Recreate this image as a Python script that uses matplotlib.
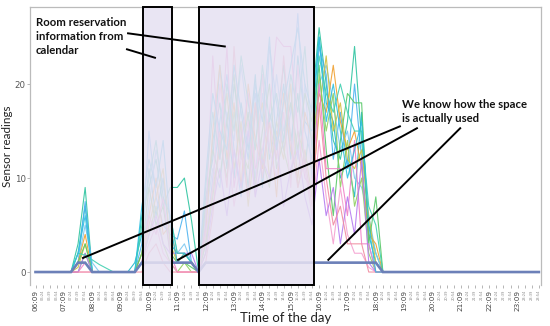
import matplotlib
matplotlib.use("Agg")
import matplotlib.pyplot as plt
from matplotlib.patches import Rectangle
import matplotlib.transforms as mtransforms

# ---------------- data ----------------
time_labels = [
    "06:09", "06:24", "06:39", "06:54", "07:09", "07:24", "07:39", "07:54",
    "08:09", "08:24", "08:39", "08:54", "09:09", "09:24", "09:39", "09:54",
    "10:09", "10:24", "10:39", "10:54", "11:09", "11:24", "11:39", "11:54",
    "12:09", "12:24", "12:39", "12:54", "13:09", "13:24", "13:39", "13:54",
    "14:09", "14:24", "14:39", "14:54", "15:09", "15:24", "15:39", "15:54",
    "16:09", "16:24", "16:39", "16:54", "17:09", "17:24", "17:39", "17:54",
    "18:09", "18:24", "18:39", "18:54", "19:09", "19:24", "19:39", "19:54",
    "20:09", "20:24", "20:39", "20:54", "21:09", "21:24", "21:39", "21:54",
    "22:09", "22:24", "22:39", "22:54", "23:09", "23:24", "23:39", "23:54",
]

# sensor series: values for 07:24 .. 18:24 (readings are 0 outside this window)
active_start = 5
s_teal = [0, 3, 9, 0, 0, 0, 0, 0, 0,
          0, 6, 9, 12, 7, 9,
          9, 10, 5.5, 0,
          5, 14, 18, 11, 20, 15, 9, 17, 21, 12, 16, 22, 14, 19, 11,
          18, 26, 20, 14, 12, 16, 24, 14, 5, 2, 0]
s_turq = [0, 2, 7, 0, 0, 0, 0, 0, 0,
          1, 4, 11, 6, 10, 3,
          2, 2, 1, 0,
          8, 12, 22, 16, 10, 18, 13, 21, 9, 17, 14, 20, 12, 23, 16,
          15, 25, 18, 16, 10, 12, 8, 17, 4, 1, 0]
s_lblue = [0, 1, 7.5, 0, 0, 0, 0, 0, 0,
           0, 3, 15, 8, 5, 4,
           3.5, 6.5, 1, 0,
           3, 10, 16, 21, 13, 8, 15, 19, 11, 24, 18, 13, 17, 27.5, 15,
           12, 24, 21, 12, 17, 11, 20, 12, 3, 0, 0]
s_sky = [0, 1, 5, 1, 0, 0, 0, 0, 0,
         0, 2, 7, 13, 9, 6,
         2, 3, 1, 0,
         6, 11, 9, 17, 14, 22, 16, 10, 19, 13, 21, 15, 18, 12, 20,
         10, 20, 22, 18, 13, 15, 10, 9, 6, 2, 0]
s_orange = [0, 1, 4, 0, 0, 0, 0, 0, 0,
            0, 2, 6, 10, 4, 5,
            1, 2, 1, 0,
            4, 15, 22, 12, 18, 9, 20, 14, 11, 16, 8, 19, 13, 10, 17,
            14, 19, 17, 22, 16, 13, 15, 11, 4, 3, 0]
s_gold = [0, 0.5, 3, 0, 0, 0, 0, 0, 0,
          0, 1, 5, 8, 11, 3,
          1, 1, 1, 0,
          2, 9, 13, 19, 11, 16, 7, 14, 18, 10, 15, 12, 20, 9, 13,
          8, 17, 23, 15, 18, 12, 11, 13, 6, 1, 0]
s_green = [0, 1, 3, 0, 0, 0, 0, 0, 0,
           0, 2, 9, 5, 7, 2,
           1, 1, 0.5, 0,
           7, 13, 10, 16, 21, 12, 17, 9, 15, 20, 11, 14, 18, 13, 19,
           16, 22, 13, 6, 14, 19, 18, 18, 3, 8, 0]
s_lime = [0, 0, 2, 0, 0, 0, 0, 0, 0,
          0, 1, 4, 7, 3, 1,
          0, 1, 0, 0,
          3, 8, 14, 10, 17, 13, 11, 18, 12, 9, 16, 13, 10, 15, 12,
          11, 21, 15, 19, 9, 14, 7, 10, 2, 0, 0]
s_pink = [0, 0, 1, 0, 0, 0, 0, 0, 0,
          0, 1, 6, 4, 8, 2,
          0, 0, 0, 0,
          5, 23, 12, 24, 9, 14, 19, 11, 13, 17, 25, 24, 24, 15, 10,
          9, 20, 11, 11, 11, 6, 14, 3, 3, 0, 0]
s_lpink = [0, 0, 0, 0, 0, 0, 0, 0, 0,
           0, 1, 3, 5, 2, 1,
           0, 0, 0, 0,
           4, 9, 20, 14, 7, 12, 16, 8, 21, 13, 10, 17, 9, 22, 11,
           6, 14, 8, 3, 9, 4, 2, 2, 0.5, 0, 0]
s_violet = [0, 0, 2, 0, 0, 0, 0, 0, 0,
            0, 1, 4, 6, 3, 2,
            2, 2, 2, 0,
            2, 7, 11, 6, 13, 9, 15, 8, 12, 10, 14, 7, 11, 13, 8,
            5, 12, 6, 9, 3, 8, 4, 12, 1, 0, 0]
s_salmon = [0, 0, 0, 0, 0, 0, 0, 0, 0,
            0, 0, 2, 3, 1, 0,
            0, 0, 0, 0,
            1, 6, 15, 9, 24, 13, 8, 18, 10, 16, 12, 23, 14, 9, 12,
            7, 18, 10, 5, 7, 3, 3, 3, 0, 0, 0]
s_aqua = [0, 2, 1.8, 1.3, 0.8, 0.4, 0, 0, 0,
          0, 5, 10, 14, 8, 6,
          2, 2, 1, 0,
          9, 17, 12, 20, 15, 23, 18, 13, 22, 16, 19, 14, 21, 17, 24,
          13, 23, 19, 17, 20, 17, 15, 15, 7, 5, 0]
s_cyan = [0, 2, 6, 0, 0, 0, 0, 0, 0,
          0, 7, 12, 9, 14, 5,
          1, 2, 1, 0,
          10, 19, 15, 13, 22, 17, 12, 20, 16, 25, 13, 18, 22, 26, 20,
          17, 25, 16, 20, 15, 10, 13, 16, 5, 0, 0]

# actual occupancy (thick line)
occupancy = [0, 0, 0, 0, 0, 0, 1, 1, 0, 0, 0, 0, 0, 0, 0, 1,
             1, 1, 1, 1, 1, 1, 1, 0, 1, 1, 1, 1, 1, 1, 1, 1,
             1, 1, 1, 1, 1, 1, 1, 1, 1, 1, 1, 1, 1, 1, 1, 1,
             1, 0, 0, 0, 0, 0, 0, 0, 0, 0, 0, 0, 0, 0, 0, 0,
             0, 0, 0, 0, 0, 0, 0, 0]

# calendar reservations (start, end) in time-slot units
reservations = [(15.16, 19.25), (23.06, 39.28)]

series = [s_teal, s_turq, s_lblue, s_sky, s_orange, s_gold, s_green, s_lime,
          s_pink, s_lpink, s_violet, s_salmon, s_aqua, s_cyan]
colors = ["#2EC4A0", "#1FB8C8", "#4DB3F0", "#7EC8F0", "#F0A030", "#CFC040",
          "#58C868", "#90D060", "#F080C8", "#F5A0D0", "#B57BF0", "#F08CA0",
          "#40D0B0", "#30C0E0"]

# ---------------- plot ----------------
fig = plt.figure(figsize=(5.5, 3.26), dpi=100)
ax = fig.add_axes([30 / 550, 1 - 285 / 326, (541 - 30) / 550, (285 - 7) / 326])

n = len(time_labels)
x = list(range(n))
for vals, c in zip(series, colors):
    full = [0] * active_start + vals + [0] * (n - active_start - len(vals))
    ax.plot(x, full, color=c, lw=0.8, alpha=0.9, zorder=2)

ax.plot(x, occupancy, color="#6C80B8", lw=1.9, zorder=3, solid_joinstyle="miter")

trans = mtransforms.blended_transform_factory(ax.transData, ax.transAxes)
for (a, b) in reservations:
    ax.add_patch(Rectangle((a, 0), b - a, 1, transform=trans, facecolor="#E6E1F2",
                           alpha=0.86, edgecolor="none", zorder=4))
    ax.add_patch(Rectangle((a, 0), b - a, 1, transform=trans, facecolor="none",
                           edgecolor="black", lw=1.4, zorder=5, clip_on=False))

ax.set_xlim(-0.78, 71.3)
ax.set_ylim(-1.38, 28.2)

major = [i for i in x if i % 4 == 0]
minor = [i for i in x if i % 4 != 0]
ax.set_xticks(major)
ax.set_xticklabels([time_labels[i] for i in major], rotation=90, fontsize=5.2,
                   color="#444444")
ax.set_xticks(minor, minor=True)
ax.set_xticklabels([time_labels[i] for i in minor], minor=True, rotation=90,
                   fontsize=2.6, color="#888888")
ax.tick_params(axis="x", which="both", length=2, width=0.5, color="#999999", pad=1.5)
ax.set_yticks([0, 10, 20])
ax.set_yticklabels(["0", "10", "20"], fontsize=6.2, color="#555555")
ax.tick_params(axis="y", length=2, width=0.5, color="#999999", pad=1.2)

for side in ["left", "top", "right"]:
    ax.spines[side].set_color("#BBBBBB")
    ax.spines[side].set_linewidth(0.9)
ax.spines["bottom"].set_visible(False)

ax.set_ylabel("Sensor readings", fontsize=8.4, family="Lato", color="#222222")
ax.yaxis.set_label_coords(-0.034, 0.5)
ax.set_xlabel("Time of the day", fontsize=9.5, family="Lato", color="#222222", labelpad=1)

# annotations
ann_lines = [((13.05, 25.4), (26.7, 24.0)),
             ((12.9, 23.7), (16.85, 22.8)),
             ((51.4, 15.5), (6.7, 1.5)),
             ((53.8, 15.3), (20.1, 1.3)),
             ((59.9, 15.3), (41.3, 1.3))]
for (p0, p1) in ann_lines:
    ax.plot([p0[0], p1[0]], [p0[1], p1[1]], color="black", lw=1.4, zorder=6,
            clip_on=False)

ax.text(0.0, 27.1, "Room reservation\ninformation from\ncalendar", fontsize=8.2,
        family="Lato", fontweight="bold", va="top", ha="left", linespacing=1.3,
        zorder=7, color="#111111")
ax.text(51.7, 18.4, "We know how the space\nis actually used", fontsize=8.2,
        family="Lato", fontweight="bold", va="top", ha="left", linespacing=1.3,
        zorder=7, color="#111111")

fig.savefig("out.png", dpi=100)
